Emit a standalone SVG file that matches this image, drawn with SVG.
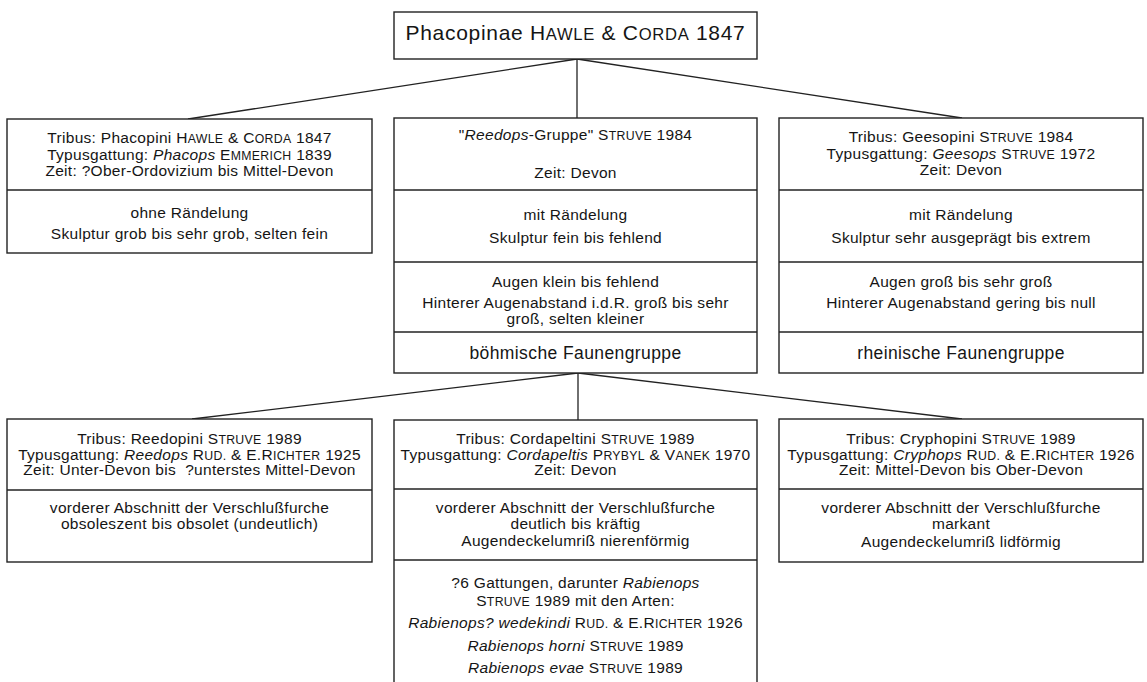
<svg xmlns="http://www.w3.org/2000/svg" width="1147" height="682" viewBox="0 0 1147 682">
<style>
.box{fill:#fff;stroke:#222;stroke-width:1.4}
.div{stroke:#222;stroke-width:1.3}
.con{stroke:#222;stroke-width:1.3;fill:none}
.t{font-family:"Liberation Sans",Arial,Helvetica,sans-serif;font-size:15.5px;fill:#151515;text-anchor:middle;letter-spacing:0.3px}
.title{font-size:21px;letter-spacing:0.7px}
.big{font-size:17.5px;letter-spacing:0.4px}
.sc{font-size:12.3px}
.sct{font-size:16.6px}
.i{font-style:italic}
</style>
<rect width="1147" height="682" fill="#fff"/>
<g id="connectors">
<line class="con" x1="577" y1="59" x2="188" y2="119"/>
<line class="con" x1="577" y1="59" x2="577" y2="118"/>
<line class="con" x1="577" y1="59" x2="962" y2="118"/>
<line class="con" x1="578" y1="373" x2="192" y2="419"/>
<line class="con" x1="578" y1="373" x2="578" y2="420"/>
<line class="con" x1="578" y1="373" x2="962" y2="419"/>
</g>
<g id="root">
<rect class="box" x="394" y="12" width="363" height="47"/>
<text class="t title" x="575.5" y="40">Phacopinae H<tspan class="sct">AWLE</tspan> &amp; C<tspan class="sct">ORDA</tspan> 1847</text>
</g>
<g id="phacopini">
<rect class="box" x="7" y="119" width="365" height="134"/>
<line class="div" x1="7" y1="190" x2="372" y2="190"/>
<text class="t" x="189.5" y="143">Tribus: Phacopini H<tspan class="sc">AWLE</tspan> &amp; C<tspan class="sc">ORDA</tspan> 1847</text>
<text class="t" x="189.5" y="159.5">Typusgattung: <tspan class="i">Phacops</tspan> E<tspan class="sc">MMERICH</tspan> 1839</text>
<text class="t" x="189.5" y="176">Zeit: ?Ober-Ordovizium bis Mittel-Devon</text>
<text class="t" x="189.5" y="218">ohne Rändelung</text>
<text class="t" x="189.5" y="238.5">Skulptur grob bis sehr grob, selten fein</text>
</g>
<g id="reedops-gruppe">
<rect class="box" x="394" y="118" width="363" height="255"/>
<line class="div" x1="394" y1="190" x2="757" y2="190"/>
<line class="div" x1="394" y1="262" x2="757" y2="262"/>
<line class="div" x1="394" y1="332" x2="757" y2="332"/>
<text class="t" x="575.5" y="140">"<tspan class="i">Reedops</tspan>-Gruppe" S<tspan class="sc">TRUVE</tspan> 1984</text>
<text class="t" x="575.5" y="178">Zeit: Devon</text>
<text class="t" x="575.5" y="220">mit Rändelung</text>
<text class="t" x="575.5" y="243">Skulptur fein bis fehlend</text>
<text class="t" x="575.5" y="287">Augen klein bis fehlend</text>
<text class="t" x="575.5" y="308">Hinterer Augenabstand i.d.R. groß bis sehr</text>
<text class="t" x="575.5" y="323.5">groß, selten kleiner</text>
<text class="t big" x="575.5" y="359">böhmische Faunengruppe</text>
</g>
<g id="geesopini">
<rect class="box" x="779" y="118" width="364" height="255"/>
<line class="div" x1="779" y1="190" x2="1143" y2="190"/>
<line class="div" x1="779" y1="262" x2="1143" y2="262"/>
<line class="div" x1="779" y1="332" x2="1143" y2="332"/>
<text class="t" x="961" y="142">Tribus: Geesopini S<tspan class="sc">TRUVE</tspan> 1984</text>
<text class="t" x="961" y="158.5">Typusgattung: <tspan class="i">Geesops</tspan> S<tspan class="sc">TRUVE</tspan> 1972</text>
<text class="t" x="961" y="174.5">Zeit: Devon</text>
<text class="t" x="961" y="220">mit Rändelung</text>
<text class="t" x="961" y="243">Skulptur sehr ausgeprägt bis extrem</text>
<text class="t" x="961" y="287">Augen groß bis sehr groß</text>
<text class="t" x="961" y="307.5">Hinterer Augenabstand gering bis null</text>
<text class="t big" x="961" y="359">rheinische Faunengruppe</text>
</g>
<g id="reedopini">
<rect class="box" x="7" y="419" width="365" height="143"/>
<line class="div" x1="7" y1="490" x2="372" y2="490"/>
<text class="t" x="189.5" y="444">Tribus: Reedopini S<tspan class="sc">TRUVE</tspan> 1989</text>
<text class="t" x="189.5" y="459.5">Typusgattung: <tspan class="i">Reedops</tspan> R<tspan class="sc">UD.</tspan> &amp; E.R<tspan class="sc">ICHTER</tspan> 1925</text>
<text class="t" x="189.5" y="475">Zeit: Unter-Devon bis&#160; ?unterstes Mittel-Devon</text>
<text class="t" x="189.5" y="513">vorderer Abschnitt der Verschlußfurche</text>
<text class="t" x="189.5" y="528.5">obsoleszent bis obsolet (undeutlich)</text>
</g>
<g id="cordapeltini">
<rect class="box" x="394" y="420" width="363" height="280"/>
<line class="div" x1="394" y1="489" x2="757" y2="489"/>
<line class="div" x1="394" y1="560" x2="757" y2="560"/>
<text class="t" x="575.5" y="443.5">Tribus: Cordapeltini S<tspan class="sc">TRUVE</tspan> 1989</text>
<text class="t" x="575.5" y="459.5">Typusgattung: <tspan class="i">Cordapeltis</tspan> P<tspan class="sc">RYBYL</tspan> &amp; V<tspan class="sc">ANEK</tspan> 1970</text>
<text class="t" x="575.5" y="474.5">Zeit: Devon</text>
<text class="t" x="575.5" y="513">vorderer Abschnitt der Verschlußfurche</text>
<text class="t" x="575.5" y="528.5">deutlich bis kräftig</text>
<text class="t" x="575.5" y="546">Augendeckelumriß nierenförmig</text>
<text class="t" x="575.5" y="588">?6 Gattungen, darunter <tspan class="i">Rabienops</tspan></text>
<text class="t" x="575.5" y="606">S<tspan class="sc">TRUVE</tspan> 1989 mit den Arten:</text>
<text class="t" x="575.5" y="628"><tspan class="i">Rabienops? wedekindi</tspan> R<tspan class="sc">UD.</tspan> &amp; E.R<tspan class="sc">ICHTER</tspan> 1926</text>
<text class="t" x="575.5" y="651"><tspan class="i">Rabienops horni</tspan> S<tspan class="sc">TRUVE</tspan> 1989</text>
<text class="t" x="575.5" y="672.5"><tspan class="i">Rabienops evae</tspan> S<tspan class="sc">TRUVE</tspan> 1989</text>
</g>
<g id="cryphopini">
<rect class="box" x="779" y="419" width="364" height="143"/>
<line class="div" x1="779" y1="489" x2="1143" y2="489"/>
<text class="t" x="961" y="443.5">Tribus: Cryphopini S<tspan class="sc">TRUVE</tspan> 1989</text>
<text class="t" x="961" y="459.5">Typusgattung: <tspan class="i">Cryphops</tspan> R<tspan class="sc">UD.</tspan> &amp; E.R<tspan class="sc">ICHTER</tspan> 1926</text>
<text class="t" x="961" y="474.5">Zeit: Mittel-Devon bis Ober-Devon</text>
<text class="t" x="961" y="513">vorderer Abschnitt der Verschlußfurche</text>
<text class="t" x="961" y="529">markant</text>
<text class="t" x="961" y="546.5">Augendeckelumriß lidförmig</text>
</g>
</svg>
